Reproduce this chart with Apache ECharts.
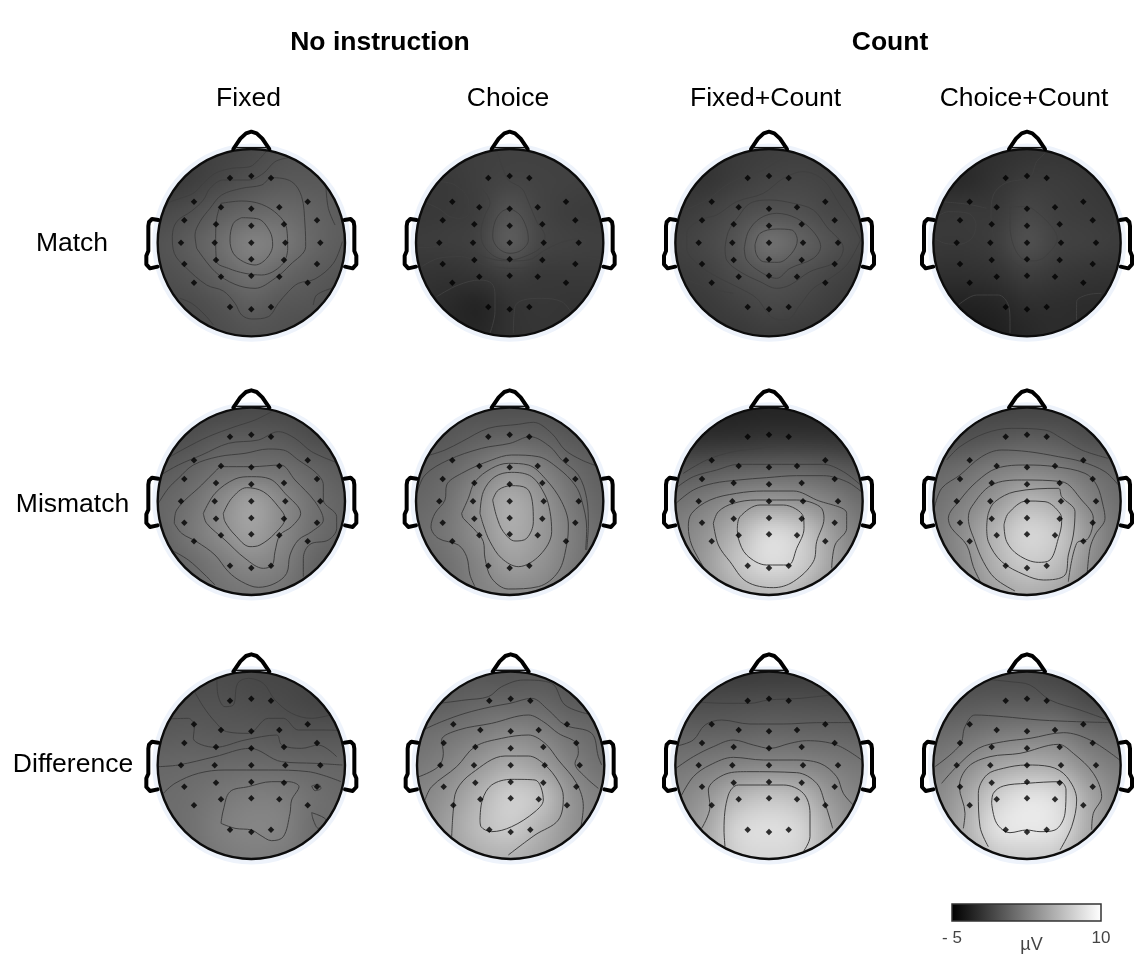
<!DOCTYPE html>
<html><head><meta charset="utf-8">
<style>html,body{margin:0;padding:0;background:#fff}#c{width:1135px;height:957px}</style>
<script src="https://cdn.jsdelivr.net/npm/echarts@6/dist/echarts.min.js"></script>
</head><body><div id="c"></div>
<script>
// ---------- labels ----------
const groupLabels = ['No instruction', 'Count'];
const columnLabels = ['Fixed', 'Choice', 'Fixed+Count', 'Choice+Count'];
const rowLabels = ['Match', 'Mismatch', 'Difference'];
const scaleRange = [-5, 10];
const scaleUnit = 'µV';

// ---------- electrode sites, read relative to the head centre ----------
const electrodes = [
 [-64,-194],[0,-200],[59,-194],
 [-172,-123],[-91,-106],[0,-102],[84,-106],[169,-123],
 [-201,-67],[-106,-55],[0,-51],[98,-55],[197,-67],
 [-211,0],[-110,0],[0,0],[102,0],[207,0],
 [-201,64],[-106,52],[0,50],[98,52],[197,64],
 [-172,120],[-91,102],[0,99],[84,102],[169,120],
 [-64,193],[0,200],[59,193]];
const noseLine = [[-54,-281],[-33,-312],[-16,-328],[0,-333],[16,-328],[33,-312],[54,-281]];
const noseBase = [[-47,-285],[47,-285]];
const earLeft = [[-279,-68],[-298,-71],[-307,-62],[-309,-50],[-309,25],[-315,39],[-315,65],[-304,77],[-281,72]];
const earRight = earLeft.map(p => [-p[0], p[1]]);

// ---------- potential maps (µV) on a 7×7 lattice, top row first ----------
const mapFixedMatch = [
[-1.3,-1.3,-1.1,-0.8,-0.3,-0.1,-0.1],[-1.8,-1.4,-0.8,-0.2,0.2,0.2,0.2],[-0.8,-0.4,0.4,1,1.2,0.8,0.4],
[-0.2,0.4,1.4,2.5,2,1,0.4],[-0.4,0,0.8,1.6,1,0.4,0],[-0.8,-0.6,-0.1,0.5,0.1,-0.1,-0.6],[-1,-0.8,-0.5,-0.2,-0.3,-0.6,-0.8]];
const mapChoiceMatch = [
[-1.4,-1.4,-1.3,-1.2,-1.2,-1.3,-1.3],[-1.6,-1.6,-1.3,-1,-1.1,-1.2,-1.3],[-1.7,-1.6,-1.3,-0.2,-1,-1.4,-1.5],
[-1.5,-1.4,-1.1,0.3,-0.9,-1.2,-1.3],[-1.9,-2,-1.8,-1.3,-1.6,-1.6,-1.6],[-2.2,-2.5,-2.8,-2,-1.8,-1.9,-1.9],[-2.2,-2.6,-2.7,-2.1,-1.9,-2,-2]];
const mapFixedCountMatch = [
[-1.8,-1.8,-1.6,-1.4,-1.3,-1.4,-1.5],[-2,-1.9,-1.4,-1,-0.9,-1.1,-1.3],[-1.6,-1.2,-0.6,-0.2,-0.3,-0.8,-1],
[-1.2,-0.8,0,1.5,0.7,-0.2,-0.8],[-1.5,-1.2,-0.5,0,-0.3,-0.9,-1.3],[-1.8,-1.6,-1.2,-0.8,-1,-1.4,-1.7],[-2,-1.8,-1.7,-1.5,-1.6,-1.7,-1.9]];
const mapChoiceCountMatch = [
[-2.4,-2.4,-2.2,-2,-1.9,-2,-2],[-2.6,-2.5,-2,-1.5,-1.5,-1.7,-1.9],[-1.8,-1.7,-1.6,-0.9,-1.3,-1.5,-1.7],
[-1.7,-1.7,-1.4,-0.4,-1.1,-1.3,-1.5],[-2.2,-2.2,-2,-1.4,-1.7,-1.9,-2],[-3,-3,-2.8,-2.3,-2.3,-2.4,-2.4],[-3.4,-3.6,-3.2,-2.7,-2.4,-2.6,-2.7]];
const mapFixedMismatch = [
[-1,-1,-0.9,-0.7,-0.8,-1,-1],[-0.6,-0.3,0.3,0.4,0.2,-0.4,-0.6],[0.2,0.8,1.6,1.8,1.6,0.9,0.3],
[0.9,1.6,3,4.3,3,1.6,0.8],[0.8,1.9,3.2,4.3,3,1.5,0.8],[0.6,1.2,2.2,3,2.4,1,0.4],[0.8,1,1.6,1.9,1.7,0.8,0.5]];
const mapChoiceMismatch = [
[-0.2,-0.2,-0.3,-0.3,-0.3,-0.6,-0.8],[0,0.2,0.7,1,0.8,0.2,0],[0.6,1.1,2.2,3.4,2.6,1.3,0.5],
[1,1.7,3.4,5,3.8,2,0.9],[1.3,2,3.4,5,4,2.4,1.2],[1,1.6,2.8,4.2,3.6,2.2,1],[1,1.4,2.5,3,2.8,1.6,0.8]];
const mapFixedCountMismatch = [
[-3.1,-3.1,-3,-2.9,-2.9,-3,-3],[-2.2,-2.1,-2,-1.8,-1.8,-1.9,-2.1],[0,0.3,0.7,0.9,0.9,0.5,0],
[1.6,2.4,3.4,4,3.6,2.6,1.4],[2.6,3.7,5.6,7.6,6.8,4.2,2.2],[2.5,4.2,6.4,7.8,7,4.5,2.2],[2.4,3.6,5.2,5.8,5.4,3.4,2.2]];
const mapChoiceCountMismatch = [
[-1,-1,-1,-1,-1,-1.1,-1.1],[-0.4,-0.2,0.2,0.5,0.3,-0.3,-0.5],[1,1.5,2.4,2.8,2.4,1.5,0.9],
[1.6,2.6,4,5.6,4.8,2.8,1.5],[2,3.4,5.6,7.4,6.6,3.8,1.8],[2,3.2,5.4,6.8,6,3.4,1.6],[2,2.8,4.4,5.2,4.6,2.8,1.6]];
const mapFixedDifference = [
[-0.7,-0.7,-0.6,-0.8,-0.9,-1,-1],[-0.3,-0.2,-0.2,-0.4,-0.6,-0.9,-1],[0.3,0.4,0.3,0.3,0.1,0,0],
[1,1.1,1.2,1.3,1.2,1,0.9],[1.3,1.5,2,2.4,2.3,1.6,1.2],[1.3,1.6,2.4,2.8,2.6,1.5,1.4],[1.2,1.4,2.1,2.4,2.2,1.5,1.2]];
const mapChoiceDifference = [
[0,0,0,-0.1,0,-0.3,-0.4],[0.4,0.6,1,1.1,1,0.4,0.3],[1.4,1.8,2.4,3,2.6,1.6,1.1],
[2.1,2.8,4,5,4.2,2.6,1.6],[2.8,3.8,5.5,7,6.2,3.6,2.4],[3,4.4,6,6.8,5.4,3.6,2.5],[3,4,5.2,5.4,4.6,3.4,2.4]];
const mapFixedCountDifference = [
[-1.6,-1.6,-1.6,-1.5,-1.5,-1.6,-1.6],[-0.5,-0.5,-0.4,-0.3,-0.3,-0.4,-0.5],[0.8,0.8,0.9,1.1,1,0.9,0.7],
[1.9,2.3,2.8,3,2.9,2.4,1.9],[2.8,3.8,5.6,6.4,5.8,3.8,2.6],[3.2,4.8,7.4,8,7.4,4.8,3],[3.4,5,7.2,7.6,7.2,5,3.2]];
const mapChoiceCountDifference = [
[-0.8,-0.8,-0.7,-0.7,-1,-1.2,-1.2],[0,0.2,0.4,0.4,0.2,-0.5,-0.8],[1.2,1.6,2.2,2.5,2.4,1.4,0.9],
[2.2,3.2,4.6,5.2,4.8,3.2,2.2],[3,4.6,7,8.2,7.6,4.8,3],[3.2,5.2,8,8.6,8,5,3],[3.2,4.6,6.6,7,6.6,4.2,2.8]];

// ---------- iso-lines ----------
const isoFixedMatch = [
[[395,78],[370,105],[345,125],[290,130],[240,145],[205,175],[175,205],[130,222],[100,235],[70,270]],
[[460,98],[420,110],[385,145],[340,165],[265,165],[225,190],[205,225],[170,258],[125,290],[112,335],[118,385],[150,425],[215,480],[265,498],[300,535],[320,570],[350,582],[400,575],[430,535],[460,500],[490,475],[540,462],[595,415],[622,350]],
[[185,370],[180,330],[195,290],[225,250],[260,210],[320,190],[380,180],[410,158],[470,170],[500,215],[510,300],[512,365],[465,420],[420,460],[360,490],[300,478],[240,440],[185,370]],
[[258,235],[320,228],[380,238],[430,270],[455,310],[458,370],[440,420],[380,450],[330,445],[280,430],[245,410],[242,340],[245,280],[258,235]],
[[320,278],[370,282],[405,320],[413,360],[395,400],[360,420],[325,410],[295,385],[285,345],[295,295],[320,278]],
[[575,185],[580,250],[600,300]],
[[135,520],[170,535],[210,570],[235,600]],
[[535,540],[545,510],[590,490]]];
const isoChoiceMatch = [
[[305,78],[322,125],[340,165],[380,190],[400,230],[425,290],[450,335],[440,365],[400,390],[345,405],[300,395],[265,360],[258,320],[270,270],[285,235],[265,195],[225,155],[215,105]],
[[345,250],[375,270],[395,310],[400,345],[380,375],[345,385],[310,370],[293,335],[300,290],[320,260],[345,250]],
[[135,170],[180,180],[220,225],[222,265],[195,280],[165,275],[130,250],[85,230]],
[[590,195],[545,225],[515,260],[520,280],[560,295],[610,280]],
[[65,368],[120,365],[170,352],[220,370],[265,395],[340,408],[400,405],[450,375],[500,352],[560,340],[617,348]],
[[80,425],[130,400],[200,395],[270,420],[350,430],[420,425],[480,410],[560,395],[620,405]],
[[125,515],[190,480],[255,465],[290,475],[300,510],[300,560],[285,625]],
[[355,625],[360,545],[385,525],[440,520],[500,530],[540,575]]];
const isoFixedCountMatch = [
[[420,85],[380,110],[340,135],[290,150],[230,180],[170,225],[105,255]],
[[632,345],[610,300],[570,240],[520,165],[460,140],[400,160],[340,205],[260,230],[200,270],[150,285],[110,325],[110,370],[140,415],[200,455],[270,490],[320,520],[370,580],[410,585],[450,540],[490,490],[540,460],[590,420],[632,345]],
[[225,370],[235,320],[265,275],[300,235],[360,225],[430,235],[490,255],[530,305],[580,370],[560,410],[480,440],[420,480],[380,490],[330,470],[270,440],[230,405],[225,370]],
[[283,370],[295,320],[330,280],[380,265],[440,280],[490,320],[512,365],[490,400],[420,430],[380,460],[330,440],[290,405],[283,370]],
[[315,360],[330,325],[380,312],[425,315],[442,345],[425,385],[385,412],[340,410],[318,385],[315,360]],
[[105,462],[180,490],[250,505]]];
const isoChoiceCountMatch = [
[[420,85],[395,110],[375,155],[300,175],[265,210],[258,270],[268,340],[290,380],[330,415],[385,440],[430,425],[480,385],[540,360],[600,345],[630,300],[625,265]],
[[315,245],[365,245],[400,265],[440,305],[457,340],[420,395],[385,408],[350,400],[325,360],[315,300],[315,245]],
[[90,270],[130,260],[190,265],[213,300],[200,340],[160,358],[120,355],[88,340]],
[[110,228],[190,238],[245,250]],
[[160,540],[215,510],[280,510],[310,540],[315,590],[315,625]],
[[515,590],[515,530],[545,510],[590,505]]];
const isoFixedMismatch = [
[[105,215],[150,190],[220,155],[300,125],[360,105],[410,80]],
[[75,265],[130,240],[200,210],[280,175],[370,165],[430,140],[480,160],[530,200],[605,230]],
[[68,355],[100,310],[130,280],[175,240],[250,215],[330,205],[400,192],[445,195],[490,225],[545,265],[565,300],[565,345],[605,395],[605,430],[580,465],[525,478],[505,520],[505,575]],
[[118,415],[125,375],[200,300],[245,255],[258,245],[350,245],[437,240],[480,285],[540,350],[565,405],[530,440],[490,465],[465,510],[455,565],[420,595],[370,607],[320,590],[280,560],[240,510],[185,470],[140,445],[118,415]],
[[205,385],[240,325],[300,282],[350,275],[405,282],[450,325],[497,385],[470,425],[435,450],[420,500],[412,540],[385,550],[330,520],[270,465],[215,415],[205,385]],
[[265,385],[290,340],[335,308],[385,320],[430,365],[450,400],[420,445],[375,480],[345,485],[300,450],[270,410],[265,385]],
[[108,500],[160,525],[210,570],[240,600]]];
const isoChoiceMismatch = [
[[100,210],[150,195],[200,170],[280,130],[370,118],[415,112],[470,145],[510,195],[560,225],[605,240]],
[[65,325],[90,270],[160,225],[260,190],[345,175],[405,155],[465,185],[500,225],[550,270],[575,340],[580,420],[575,495]],
[[240,605],[225,570],[215,515],[190,480],[130,460],[108,425],[120,385],[150,345],[155,300],[200,265],[290,225],[350,210],[430,215],[490,250],[540,300],[560,345],[575,430],[572,495]],
[[200,385],[220,340],[240,290],[290,250],[340,235],[400,240],[450,280],[500,350],[520,420],[515,480],[490,560],[430,605],[340,612],[290,580],[270,520],[265,470],[235,430],[205,400],[200,385]],
[[255,385],[265,320],[300,275],[350,262],[410,275],[450,330],[465,380],[470,440],[435,510],[370,545],[320,520],[285,470],[265,420],[255,385]],
[[293,345],[310,315],[350,302],[395,310],[412,350],[415,410],[395,460],[360,468],[325,440],[305,395],[293,345]]];
const isoFixedCountMismatch = [
[[100,265],[170,225],[250,200],[330,190],[420,178],[500,178],[570,195]],
[[72,305],[130,275],[200,255],[265,238],[350,238],[440,238],[520,238],[580,260],[632,300]],
[[75,355],[130,315],[190,295],[265,285],[350,278],[440,272],[520,272],[590,290],[637,320]],
[[160,550],[125,480],[115,425],[125,385],[180,345],[260,325],[340,318],[430,318],[500,345],[590,385],[590,430],[555,480],[545,550]],
[[190,415],[205,380],[250,355],[320,345],[440,345],[510,365],[522,400],[500,470],[490,530],[430,590],[370,608],[290,590],[240,530],[205,480],[190,415]],
[[262,430],[270,395],[330,360],[400,360],[460,395],[462,430],[440,490],[415,540],[350,540],[290,510],[265,460],[262,430]]];
const isoChoiceCountMismatch = [
[[125,225],[165,185],[240,145],[320,130],[420,135],[470,160],[530,195],[610,220]],
[[85,370],[110,310],[165,270],[230,215],[290,195],[370,200],[460,215],[530,230],[600,260],[640,300]],
[[215,610],[205,545],[185,480],[140,430],[130,400],[165,345],[215,290],[275,250],[365,240],[450,245],[540,265],[575,300],[595,365],[600,400],[570,450],[555,490],[550,565]],
[[330,618],[270,580],[235,530],[210,470],[190,400],[200,365],[260,300],[350,285],[470,290],[530,345],[565,400],[550,460],[515,475],[490,590]],
[[245,430],[250,385],[270,350],[330,320],[460,310],[470,335],[510,380],[505,450],[490,510],[480,570],[415,585],[360,570],[290,530],[250,470],[245,430]],
[[297,420],[310,385],[365,348],[420,350],[465,385],[470,410],[460,460],[435,525],[400,532],[340,510],[305,470],[297,420]]];
const isoFixedDifference = [
[[245,85],[248,130],[270,170],[295,165],[308,100],[340,85],[385,100],[420,150],[470,190],[530,205],[585,195]],
[[175,120],[205,170],[240,215],[275,245],[340,250],[400,205],[445,205],[490,240],[560,240],[610,240]],
[[105,205],[160,205],[178,230],[175,265],[240,292],[330,270],[425,255],[440,285],[500,295],[550,285],[605,320]],
[[68,350],[130,345],[240,320],[345,295],[440,335],[540,340],[622,345]],
[[85,430],[120,400],[190,370],[270,360],[400,360],[520,365],[618,395]],
[[258,520],[265,480],[285,425],[340,410],[410,395],[460,395],[492,410],[470,450],[465,490],[445,560],[410,572],[375,555],[350,540],[300,535],[258,520]],
[[530,408],[550,403],[558,415],[540,422],[530,408]],
[[530,488],[575,512],[550,535],[535,510],[530,488]]];
const isoChoiceDifference = [
[[135,155],[210,150],[280,140],[320,110],[385,90],[470,100],[510,165],[580,192]],
[[85,235],[140,215],[210,190],[290,170],[345,160],[410,145],[460,180],[510,225],[590,250],[610,320],[620,345]],
[[60,382],[130,350],[145,310],[140,270],[190,240],[290,220],[400,195],[445,215],[490,250],[545,280],[550,310],[540,340],[570,380],[610,415]],
[[90,450],[110,410],[185,350],[240,290],[320,265],[400,255],[450,280],[490,330],[545,400],[565,470],[560,530]],
[[170,560],[175,480],[185,420],[230,370],[330,318],[400,318],[450,345],[490,395],[505,440],[490,510],[420,555],[340,615]],
[[255,510],[262,450],[290,405],[350,388],[420,390],[445,450],[420,485],[350,530],[290,545],[258,530],[255,510]]];
const isoFixedCountDifference = [
[[150,155],[230,160],[300,160],[355,150],[450,145],[540,135]],
[[75,285],[130,270],[165,225],[215,210],[300,222],[400,222],[500,218],[610,215]],
[[72,355],[130,320],[190,290],[250,270],[310,285],[360,295],[420,280],[470,272],[560,285],[635,330]],
[[95,435],[130,380],[180,345],[250,322],[340,330],[430,330],[510,340],[560,380],[580,430],[610,465]],
[[155,535],[180,470],[175,420],[220,375],[290,365],[440,368],[500,400],[525,460],[548,535]],
[[225,590],[222,540],[235,435],[265,405],[400,405],[460,430],[480,490],[480,560],[460,605]]];
const isoChoiceCountDifference = [
[[1020,85],[1080,95],[1140,105],[1200,150],[1290,180],[1375,210]],
[[855,350],[930,285],[945,230],[975,195],[1060,200],[1170,210],[1280,215],[1390,212]],
[[875,400],[920,350],[985,295],[1060,275],[1140,265],[1240,248],[1320,270],[1415,330]],
[[940,535],[945,490],[928,410],[955,350],[1020,320],[1110,310],[1225,283],[1270,310],[1330,370],[1355,440],[1330,490],[1325,540]],
[[1015,590],[990,530],[985,430],[1010,375],[1060,355],[1130,345],[1200,350],[1250,380],[1280,450],[1265,530],[1230,600]],
[[1025,460],[1030,430],[1060,408],[1130,400],[1230,395],[1248,420],[1245,490],[1215,540],[1170,545],[1130,540],[1080,548],[1040,520],[1025,460]]];

// ---------- layout ----------
const HEAD_R = 281, UNITS_PER_PX = 3, BLOCK = 2;
const panelList = [
 {map:mapFixedMatch, iso:isoFixedMatch, ox:135, oy:125, cx:349, cy:353},
 {map:mapChoiceMatch, iso:isoChoiceMatch, ox:395, oy:125, cx:344, cy:353},
 {map:mapFixedCountMatch, iso:isoFixedCountMatch, ox:650, oy:125, cx:357, cy:353},
 {map:mapChoiceCountMatch, iso:isoChoiceCountMatch, ox:905, oy:125, cx:366, cy:353},
 {map:mapFixedMismatch, iso:isoFixedMismatch, ox:135, oy:385, cx:349, cy:349},
 {map:mapChoiceMismatch, iso:isoChoiceMismatch, ox:395, oy:385, cx:344, cy:349},
 {map:mapFixedCountMismatch, iso:isoFixedCountMismatch, ox:650, oy:385, cx:357, cy:349},
 {map:mapChoiceCountMismatch, iso:isoChoiceCountMismatch, ox:905, oy:385, cx:366, cy:349},
 {map:mapFixedDifference, iso:isoFixedDifference, ox:135, oy:650, cx:349, cy:346},
 {map:mapChoiceDifference, iso:isoChoiceDifference, ox:395, oy:650, cx:347, cy:346},
 {map:mapFixedCountDifference, iso:isoFixedCountDifference, ox:650, oy:650, cx:357, cy:346},
 {map:mapChoiceCountDifference, iso:isoChoiceCountDifference, ox:650, oy:650, cx:1131, cy:346}
];

const grayOf = v => {
  const t = Math.max(0, Math.min(1, (v - scaleRange[0]) / (scaleRange[1] - scaleRange[0])));
  return Math.round(t * 255);
};
function cr(a, b, c, d, t) {
  return 0.5 * (2*b + (c-a)*t + (2*a-5*b+4*c-d)*t*t + (3*b-a-3*c+d)*t*t*t);
}
function sample(g, u, w) {
  const n = g.length - 1;
  const i = Math.max(0, Math.min(n - 1, Math.floor(w))), j = Math.max(0, Math.min(n - 1, Math.floor(u)));
  const tw = w - i, tu = u - j, cl = k => Math.max(0, Math.min(n, k));
  const row = r => cr(g[r][cl(j-1)], g[r][cl(j)], g[r][cl(j+1)], g[r][cl(j+2)], tu);
  return cr(row(cl(i-1)), row(cl(i)), row(cl(i+1)), row(cl(i+2)), tw);
}
// keep a read iso-line point on the scalp
function onScalp(q, p) {
  const dx = q[0] - p.cx, dy = q[1] - p.cy, d = Math.hypot(dx, dy), lim = HEAD_R - 2;
  return d <= lim ? q : [p.cx + dx * lim / d, p.cy + dy * lim / d];
}

const titles = [], grids = [], xAxes = [], yAxes = [], series = [];
const addTitle = (text, x, y, weight) => titles.push({
  text, left: x, top: y, padding: 0, textAlign: 'center', textVerticalAlign: 'middle',
  textStyle: {fontFamily: 'Liberation Sans', fontSize: 26.5, fontWeight: weight, color: '#000'}
});
addTitle(groupLabels[0], 380, 43, 'bold');
addTitle(groupLabels[1], 890, 43, 'bold');
[248.5, 508, 765.5, 1024].forEach((x, i) => addTitle(columnLabels[i], x, 99, 'normal'));
[244, 505, 765].forEach((y, i) => addTitle(rowLabels[i], [72, 72.5, 73][i], y, 'normal'));

panelList.forEach((p, k) => {
  const size = 2 * HEAD_R / UNITS_PER_PX;
  grids.push({left: p.ox + (p.cx - HEAD_R) / UNITS_PER_PX, top: p.oy + (p.cy - HEAD_R) / UNITS_PER_PX, width: size, height: size, show: false, outerBoundsMode: 'none'});
  xAxes.push({type: 'value', gridIndex: k, min: p.cx - HEAD_R, max: p.cx + HEAD_R, show: false});
  yAxes.push({type: 'value', gridIndex: k, min: p.cy - HEAD_R, max: p.cy + HEAD_R, inverse: true, show: false});
  const step = 2 * HEAD_R / (p.map.length - 1);
  const nodes = [];
  p.map.forEach((row, i) => row.forEach((v, j) => nodes.push([p.cx - HEAD_R + j * step, p.cy - HEAD_R + i * step, v])));
  // scalp shading
  series.push({
    type: 'custom', xAxisIndex: k, yAxisIndex: k, silent: true, z: 2, encode: {x: 0, y: 1}, data: nodes,
    renderItem(params, api) {
      const x = api.value(0), y = api.value(1);
      const c = api.coord([x, y]), o = api.coord([p.cx, p.cy]);
      const s = api.size([1, 1]), ppu = s[0];
      const half = step * ppu / 2, rPx = HEAD_R * ppu;
      const children = [];
      const x0 = Math.ceil((c[0] - half) / BLOCK) * BLOCK, y0 = Math.ceil((c[1] - half) / BLOCK) * BLOCK;
      for (let by = y0; by < c[1] + half; by += BLOCK) {
        let runStart = null, runGray = null, runEnd = null;
        const flush = () => { if (runStart !== null) children.push({type: 'rect', shape: {x: runStart, y: by, width: runEnd - runStart, height: BLOCK}, style: {fill: 'rgb(' + runGray + ',' + runGray + ',' + runGray + ')'}}); runStart = null; };
        for (let bx = x0; bx < c[0] + half; bx += BLOCK) {
          const dx = bx + BLOCK/2 - o[0], dy = by + BLOCK/2 - o[1];
          if (dx*dx + dy*dy > rPx*rPx) { flush(); continue; }
          const u = (dx / ppu + HEAD_R) / step, w = (dy / ppu + HEAD_R) / step;
          const gray = grayOf(sample(p.map, u, w));
          if (gray !== runGray || runStart === null) { flush(); runStart = bx; runGray = gray; }
          runEnd = bx + BLOCK;
        }
        flush();
      }
      return {type: 'group', children};
    }
  });
  // pale halo round the head
  series.push({
    type: 'custom', xAxisIndex: k, yAxisIndex: k, silent: true, z: 1, encode: {x: 0, y: 1}, data: [[p.cx, p.cy]],
    renderItem(params, api) {
      const c = api.coord([api.value(0), api.value(1)]);
      const r = api.size([HEAD_R, HEAD_R])[0];
      return {type: 'circle', shape: {cx: c[0], cy: c[1], r: r + 2.5}, style: {fill: 'none', stroke: '#eef3fb', lineWidth: 6}};
    }
  });
  // iso-lines
  p.iso.forEach(line => series.push({
    type: 'line', xAxisIndex: k, yAxisIndex: k, data: line.map(q => onScalp(q, p)), smooth: 0.35, showSymbol: false, symbol: 'none',
    silent: true, z: 3, clip: false, lineStyle: {color: '#3f3f3f', width: 1}
  }));
  // head outline, nose, ears
  series.push({
    type: 'custom', xAxisIndex: k, yAxisIndex: k, silent: true, z: 4, encode: {x: 0, y: 1}, data: [[p.cx, p.cy]],
    renderItem(params, api) {
      const cx = api.value(0), cy = api.value(1);
      const c = api.coord([cx, cy]);
      const r = api.size([HEAD_R, HEAD_R])[0];
      const pts = a => a.map(q => api.coord([cx + q[0], cy + q[1]]));
      const thick = {fill: 'none', stroke: '#000', lineWidth: 4, lineJoin: 'round', lineCap: 'round'};
      return {type: 'group', children: [
        {type: 'circle', shape: {cx: c[0], cy: c[1], r}, style: {fill: 'none', stroke: '#0c0c0c', lineWidth: 2.4}},
        {type: 'polyline', shape: {points: pts(noseLine)}, style: thick},
        {type: 'polyline', shape: {points: pts(noseBase)}, style: {fill: 'none', stroke: '#111', lineWidth: 1.5}},
        {type: 'polyline', shape: {points: pts(earLeft)}, style: thick},
        {type: 'polyline', shape: {points: pts(earRight)}, style: thick}
      ]};
    }
  });
  // electrodes
  series.push({
    type: 'scatter', xAxisIndex: k, yAxisIndex: k, silent: true, z: 5, symbol: 'diamond', symbolSize: 6.5,
    data: electrodes.map(e => [p.cx + e[0], p.cy + e[1]]), itemStyle: {color: '#000'}
  });
});

// ---------- colour scale ----------
const barIndex = panelList.length;
grids.push({left: 952, top: 904, width: 149, height: 17, show: true, borderColor: '#333', borderWidth: 1.5, backgroundColor: 'transparent', z: 6, outerBoundsMode: 'none'});
xAxes.push({
  type: 'value', gridIndex: barIndex, min: scaleRange[0], max: scaleRange[1], name: scaleUnit,
  nameLocation: 'middle', nameGap: 15, nameMoveOverlap: false, nameTextStyle: {fontFamily: 'Liberation Sans', fontSize: 18, color: '#444', padding: [0, 0, 0, 10]},
  splitLine: {show: false}, axisLine: {show: false},
  axisTick: {show: true, inside: true, length: 3, customValues: [5], lineStyle: {color: '#333'}},
  axisLabel: {show: true, customValues: scaleRange, margin: 9, fontFamily: 'Liberation Sans', fontSize: 17, color: '#444',
    formatter: v => v < 0 ? '- ' + Math.abs(v) : String(v), showMinLabel: true, showMaxLabel: true}
});
yAxes.push({type: 'value', gridIndex: barIndex, min: 0, max: 1, show: false});
series.push({
  type: 'custom', xAxisIndex: barIndex, yAxisIndex: barIndex, silent: true, z: 2, encode: {x: [0, 1]},
  data: [[scaleRange[0], scaleRange[1]]],
  renderItem(params, api) {
    const a = api.coord([api.value(0), 1]), b = api.coord([api.value(1), 0]);
    return {type: 'rect', shape: {x: a[0], y: a[1], width: b[0] - a[0], height: b[1] - a[1]},
      style: {fill: new echarts.graphic.LinearGradient(0, 0, 1, 0, [{offset: 0, color: '#000'}, {offset: 1, color: '#fff'}])}};
  }
});

const chart = echarts.init(document.getElementById('c'), null, {renderer: 'canvas'});
chart.setOption({animation: false, backgroundColor: '#fff', title: titles, tooltip: {show: false}, grid: grids, xAxis: xAxes, yAxis: yAxes, series});
</script></body></html>
